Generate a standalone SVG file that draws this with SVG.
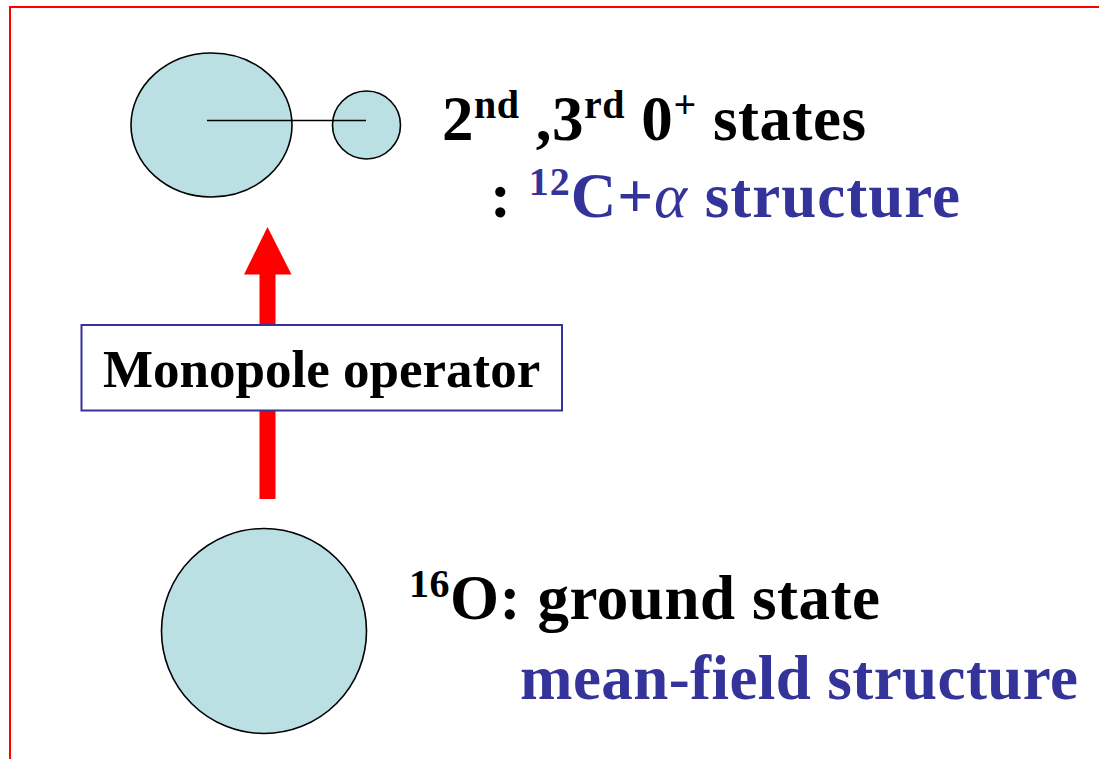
<svg xmlns="http://www.w3.org/2000/svg" width="1099" height="759" viewBox="0 0 1099 759">
<style>
.nuc{fill:#BBE0E3;stroke:#000;stroke-width:1.6}
.t{font-family:"Liberation Serif","Times New Roman",serif;font-weight:bold}
.blk{fill:#000}
.blu{fill:#333399}
</style>
<rect x="0" y="0" width="1099" height="759" fill="#fff"/>
<rect x="10" y="7" width="1100" height="760" fill="none" stroke="#FF0000" stroke-width="2"/>
<g id="cluster-state">
<ellipse class="nuc" cx="211.5" cy="125" rx="80.5" ry="72"/>
<circle class="nuc" cx="366.5" cy="125" r="34"/>
<line x1="207" y1="120.5" x2="366" y2="120.5" stroke="#000" stroke-width="1.6"/>
</g>
<g id="ground-state">
<circle class="nuc" cx="264" cy="631" r="102.5"/>
</g>
<g id="connectors">
<rect x="259.5" y="273" width="16" height="226" fill="#FF0000"/>
<polygon points="267.5,227 244,274.5 291.5,274.5" fill="#FF0000"/>
</g>
<g id="operator-label">
<rect x="81.5" y="325" width="480.5" height="85.5" fill="#fff" stroke="#333399" stroke-width="2"/>
<text class="t blk" x="103" y="387" font-size="53">Monopole operator</text>
</g>
<g id="excited-label">
<text class="t blk" x="442" y="140" font-size="63" textLength="424" lengthAdjust="spacing">2<tspan font-size="40" dy="-22">nd</tspan><tspan dy="22"> ,3</tspan><tspan font-size="40" dy="-22">rd</tspan><tspan dy="22"> 0</tspan><tspan font-size="40" dy="-22">+</tspan><tspan dy="22"> states</tspan></text>
<text class="t blk" x="490" y="217" font-size="63" textLength="470" lengthAdjust="spacing">: <tspan class="blu" font-size="40" dy="-22">12</tspan><tspan class="blu" dy="22">C+</tspan><tspan class="blu" font-style="italic" font-weight="normal">α</tspan><tspan class="blu"> structure</tspan></text>
</g>
<g id="ground-label">
<text class="t blk" x="409" y="619" font-size="63" textLength="471" lengthAdjust="spacing"><tspan font-size="40" dy="-22">16</tspan><tspan dy="22">O: ground state</tspan></text>
<text class="t blu" x="520" y="699" font-size="63" textLength="558" lengthAdjust="spacing">mean-field structure</text>
</g>
</svg>
